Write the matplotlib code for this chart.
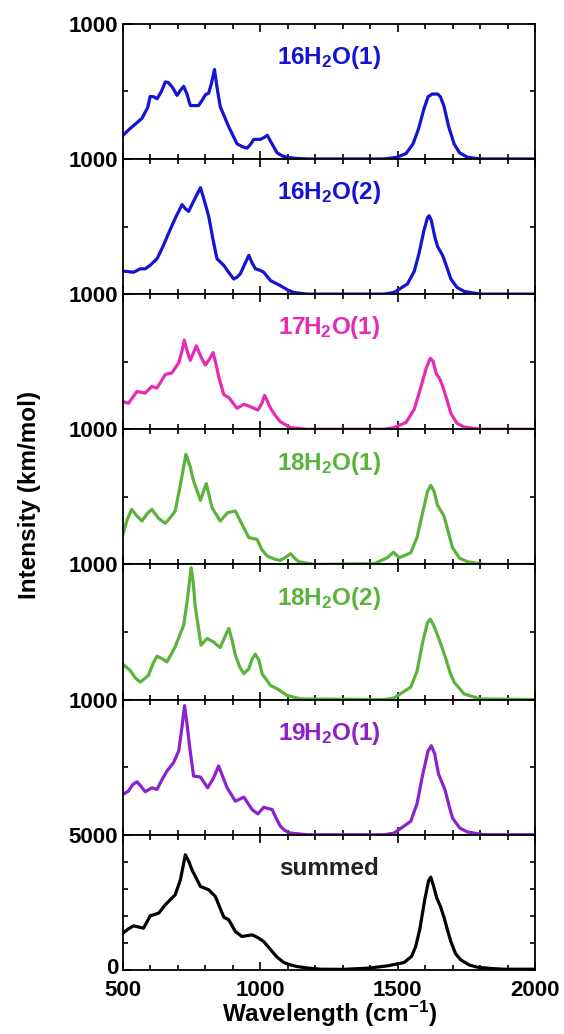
import matplotlib
matplotlib.use("Agg")
from matplotlib import pyplot as plt
from matplotlib.transforms import ScaledTranslation

plt.rcParams["font.family"] = ["Liberation Sans", "DejaVu Sans"]
plt.rcParams["font.weight"] = "bold"
plt.rcParams["mathtext.fontset"] = "custom"
plt.rcParams["mathtext.bf"] = "Liberation Sans:bold"
plt.rcParams["mathtext.rm"] = "Liberation Sans:bold"
plt.rcParams["mathtext.default"] = "bf"

# wavenumber / intensity pairs
w16_1 = [500, 526, 569, 590, 599, 612, 624, 640, 654, 665, 680, 697, 710, 721, 733, 745,
         775, 790, 800, 812, 822, 833, 843, 854, 885, 915, 935, 952, 965, 976, 1000, 1015,
         1025, 1040, 1061, 1080, 1098, 1130, 1170, 1450, 1496, 1530, 1555, 1575, 1595, 1610,
         1625, 1645, 1655, 1668, 1685, 1705, 1725, 1754, 1800, 2000]
i16_1 = [175, 225, 300, 380, 462, 460, 445, 500, 570, 565, 530, 470, 510, 537, 480, 395,
         395, 440, 475, 487, 560, 662, 520, 387, 237, 112, 90, 80, 110, 145, 145, 160,
         175, 120, 45, 22, 12, 4, 0, 0, 12, 40, 110, 220, 370, 460,
         480, 480, 460, 390, 240, 110, 45, 12, 0, 0]

w16_2 = [500, 539, 563, 581, 600, 624, 645, 666, 690, 715, 728, 739, 760, 782, 795, 812,
         828, 842, 867, 885, 903, 915, 927, 945, 958, 970, 982, 1000, 1012, 1037, 1073,
         1100, 1122, 1170, 1450, 1486, 1535, 1560, 1577, 1595, 1608, 1614, 1622, 1635,
         1645, 1663, 1680, 1693, 1715, 1741, 1800, 2000]
i16_2 = [170, 162, 187, 187, 215, 262, 350, 450, 560, 662, 630, 612, 700, 787, 700, 575,
         400, 262, 212, 160, 112, 125, 150, 230, 287, 230, 187, 175, 162, 100, 62,
         30, 12, 0, 0, 12, 75, 170, 300, 470, 565, 580, 545, 420,
         350, 287, 190, 112, 50, 20, 0, 0]

w17_1 = [500, 520, 551, 581, 605, 624, 654, 678, 703, 715, 723, 735, 745, 767, 785, 800,
         815, 828, 840, 848, 867, 885, 915, 940, 964, 991, 1005, 1015, 1025, 1037, 1055,
         1073, 1110, 1170, 1450, 1486, 1530, 1560, 1583, 1603, 1618, 1628, 1640, 1652,
         1663, 1680, 1693, 1715, 1741, 1800, 2000]
i17_1 = [205, 192, 280, 267, 317, 305, 405, 417, 492, 580, 660, 570, 510, 617, 530, 475,
         520, 567, 470, 392, 255, 235, 155, 185, 167, 142, 190, 250, 210, 155, 100,
         55, 12, 0, 0, 12, 50, 150, 305, 450, 525, 505, 410, 375,
         320, 210, 117, 45, 17, 0, 0]

w18_1 = [500, 515, 532, 550, 569, 590, 605, 630, 654, 670, 690, 710, 729, 745, 757, 782,
         803, 824, 854, 881, 909, 927, 958, 988, 1005, 1025, 1050, 1073, 1090, 1110, 1125,
         1140, 1195, 1413, 1462, 1484, 1505, 1547, 1570, 1590, 1608, 1620, 1632, 1644, 1656,
         1668, 1685, 1699, 1725, 1754, 1814, 2000]
i18_1 = [222, 330, 407, 360, 321, 380, 407, 340, 304, 340, 395, 600, 815, 720, 617, 474,
         598, 420, 321, 383, 395, 321, 198, 185, 110, 62, 40, 30, 50, 79, 45,
         20, 0, 5, 49, 91, 49, 86, 200, 380, 540, 585, 540, 440, 400,
         358, 230, 123, 45, 20, 0, 0]

w18_2 = [500, 526, 545, 563, 593, 610, 624, 645, 660, 690, 721, 735, 748, 755, 763, 784,
         806, 828, 854, 870, 885, 897, 909, 925, 940, 958, 970, 982, 995, 1006, 1037, 1061,
         1098, 1146, 1450, 1486, 1547, 1570, 1590, 1608, 1618, 1630, 1644, 1660, 1675, 1690,
         1705, 1741, 1800, 2000]
i18_2 = [261, 216, 160, 129, 179, 270, 321, 300, 278, 390, 552, 750, 975, 880, 689, 403,
         452, 428, 385, 460, 527, 440, 328, 240, 192, 229, 300, 336, 290, 192, 104, 80,
         30, 5, 0, 12, 92, 210, 420, 570, 595, 550, 480, 390, 300, 200,
         129, 42, 5, 0]

w19_1 = [500, 520, 535, 551, 565, 581, 605, 624, 640, 660, 684, 703, 715, 724, 733, 743,
         757, 782, 808, 830, 848, 865, 879, 909, 940, 970, 991, 1012, 1043, 1058, 1073,
         1090, 1110, 1170, 1450, 1486, 1547, 1570, 1590, 1610, 1622, 1634, 1648, 1660,
         1672, 1687, 1699, 1725, 1754, 1814, 2000]
i19_1 = [298, 323, 370, 392, 360, 318, 347, 335, 400, 471, 533, 620, 800, 955, 820, 645,
         434, 427, 347, 422, 509, 420, 347, 248, 278, 186, 154, 203, 186, 120, 62,
         30, 12, 0, 0, 12, 99, 230, 440, 620, 658, 600, 450, 390,
         330, 210, 124, 50, 20, 0, 0]

w_sum = [500, 520, 539, 575, 599, 630, 654, 690, 709, 727, 740, 751, 782, 812, 836, 867,
         885, 909, 933, 970, 990, 1012, 1043, 1060, 1085, 1110, 1134, 1170, 1219, 1300, 1389,
         1462, 1523, 1550, 1565, 1580, 1598, 1612, 1620, 1630, 1642, 1655, 1668, 1680,
         1693, 1710, 1729, 1760, 1790, 1840, 1887, 2000]
i_sum = [1358, 1520, 1630, 1543, 2000, 2099, 2407, 2778, 3333, 4259, 4000, 3704, 3086, 2963,
         2716, 1951, 1852, 1420, 1235, 1296, 1200, 1049, 679, 480, 272, 180, 123, 70, 25,
         20, 62, 148, 272, 500, 864, 1500, 2600, 3300, 3432, 3100, 2654, 2350, 1950, 1500,
         1049, 600, 370, 180, 99, 50, 25, 25]

names = [r"16H$_2$O(1)", r"16H$_2$O(2)", r"17H$_2$O(1)", r"18H$_2$O(1)",
         r"18H$_2$O(2)", r"19H$_2$O(1)", "summed"]
colors = ["#1414d2", "#1414d2", "#e62bb4", "#5ab43c", "#5ab43c", "#8c22cc", "black"]
series = [(w16_1, i16_1), (w16_2, i16_2), (w17_1, i17_1), (w18_1, i18_1),
          (w18_2, i18_2), (w19_1, i19_1), (w_sum, i_sum)]

fig, axes = plt.subplots(7, 1, figsize=(5.64, 10.34), dpi=100, sharex=True)
fig.subplots_adjust(left=0.218, right=0.949, top=0.977, bottom=0.062, hspace=0)

for k, ax in enumerate(axes):
    w, i = series[k]
    ax.plot(w, i, color=colors[k], lw=2.3, solid_joinstyle="round")
    ax.set_xlim(500, 2000)
    last = k == len(axes) - 1
    top = 5000 if last else 1000
    ax.set_ylim(0, top)
    ax.set_yticks([0, top])
    ax.set_yticklabels(["0" if last else "", str(top)])
    ax.set_yticks([1000, 2000, 3000, 4000] if last else [500], minor=True)
    ax.set_xticks([500, 1000, 1500, 2000])
    ax.set_xticks(range(600, 2000, 100), minor=True)
    ax.tick_params(which="both", direction="in", top=True, right=True, width=1.2,
                   labelsize=16)
    ax.tick_params(axis="x", which="major", pad=7)
    ax.tick_params(which="major", length=6)
    ax.tick_params(which="minor", length=3.8)
    for s in ax.spines.values():
        s.set_linewidth(1.3)
    ax.text(0.5, 0.75, names[k], transform=ax.transAxes, ha="center", va="center",
            color="#222222" if last else colors[k], fontsize=17.5, fontweight="bold")

# nudge the "0" up a few pixels so it clears the "500" below it
zero_lab = axes[-1].yaxis.get_major_ticks()[0].label1
zero_lab.set_transform(zero_lab.get_transform()
                       + ScaledTranslation(0, 3 / 72, fig.dpi_scale_trans))

axes[-1].set_xlabel(r"Wavelength (cm$^{-1}$)", fontsize=17.5, fontweight="bold", labelpad=-1)
fig.text(0.053, 0.521, "Intensity (km/mol)", rotation=90, ha="center", va="center",
         fontsize=17.5, fontweight="bold")

fig.savefig("out.png", dpi=100)
